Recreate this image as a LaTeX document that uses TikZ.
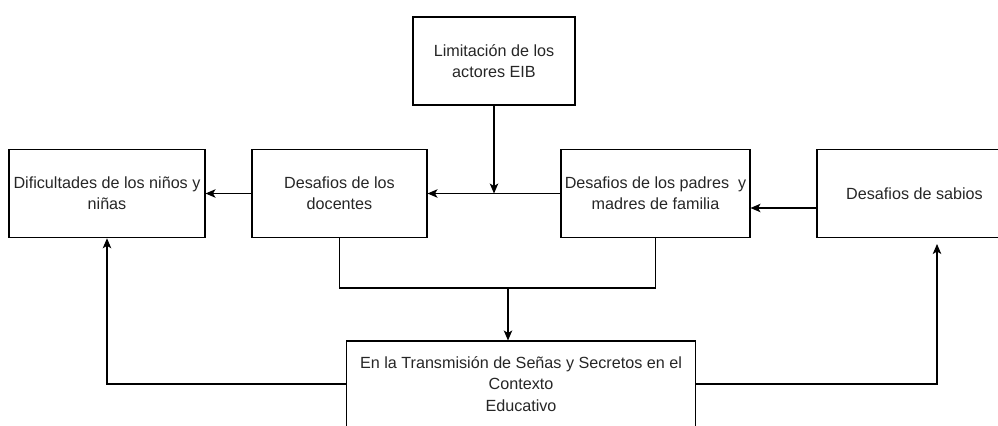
\documentclass[tikz,border=0pt]{standalone}
\usepackage{fontspec}
\setmainfont{Liberation Sans}
\usetikzlibrary{arrows.meta}

\begin{document}
\begin{tikzpicture}[x=0.02cm, y=-0.02cm, line width=0.6pt,
	caja/.style={draw, inner sep=0, align=center, minimum height=1.77cm,
		font=\fontsize{9.2pt}{12.2pt}\selectfont, text=black!85},
	flecha/.style={-{Stealth[length=0.2cm, width=0.17cm, inset=0.05cm]}}]
	\useasboundingbox (0,0) rectangle (998,426);
	\clip (0,0) rectangle (998,426);

	\node [caja, minimum width=3.24cm, minimum height=1.76cm] (lim) at (494,61) {Limitación de los\\actores EIB};
	\node [caja, minimum width=3.92cm] (dif) at (107,193.5) {Dificultades de los niños y\\niñas};
	\node [caja, minimum width=3.5cm] (doc) at (339.5,193.5) {Desafios de los\\docentes};
	\node [caja, minimum width=3.78cm] (pad) at (655.5,193.5) {Desafios de los padres\ \ y\\madres de familia};
	\node [caja, minimum width=3.9cm] (sab) at (914.5,193.5) {Desafios de sabios};
	\node [caja, minimum width=7cm, minimum height=1.72cm] (ctx) at (521,384) {En la Transmisión de Señas y Secretos en el\\Contexto\\Educativo};

	\coordinate (merge) at (508,288);
	\coordinate (sabin) at (937,244);

	\draw [flecha] (lim) -- (lim.south |- pad.west);
	\draw [flecha] (pad) -- (doc);
	\draw [flecha] (doc) -- (dif);
	\draw [flecha] ([yshift=-0.29cm]sab.west) -- ([yshift=-0.29cm]pad.east);

	\draw (doc.south) |- (merge) -| (pad.south);
	\draw [flecha] (merge) -- (merge |- ctx.north);

	\draw [flecha] (ctx.west) -| (dif.south);
	\draw [flecha] (ctx.east) -| (sabin);

\end{tikzpicture}
\end{document}
